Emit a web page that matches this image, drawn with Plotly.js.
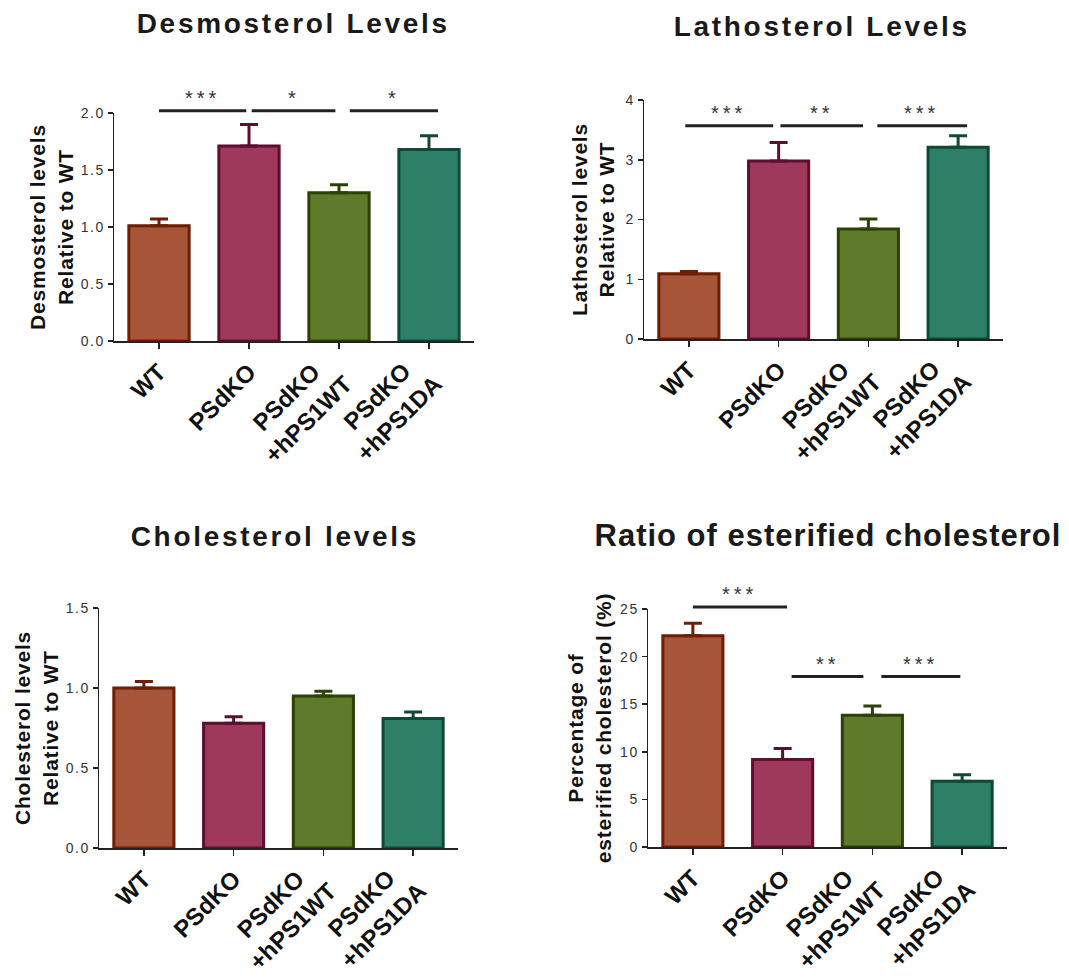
<!DOCTYPE html>
<html>
<head>
<meta charset="utf-8">
<script src="https://cdn.plot.ly/plotly-3.0.1.min.js"></script>
<style>
html,body{margin:0;padding:0;background:#fff;}
#chart{width:1069px;height:978px;}
/* significance stars are spaced out */
#chart .annotation text{letter-spacing:4px;}
/* panel titles are letter-spaced */
#chart .annotation[data-index="0"] text,
#chart .annotation[data-index="1"] text,
#chart .annotation[data-index="2"] text{letter-spacing:2.7px;}
#chart .annotation[data-index="3"] text{letter-spacing:1px;}
#chart .ytick text,#chart .y2tick text,#chart .y3tick text,#chart .y4tick text{letter-spacing:1.5px;}
#chart .g-ytitle text,#chart .g-y2title text,#chart .g-y3title text,#chart .g-y4title text{letter-spacing:0.8px;}
</style>
</head>
<body>
<div id="chart"></div>
<script>
// ---- data ----
const groups = ['WT', 'PSdKO', 'PSdKO<br>+hPS1WT', 'PSdKO<br>+hPS1DA'];

const desmosterolMean = [1.01, 1.71, 1.30, 1.68];
const desmosterolErr  = [0.06, 0.19, 0.07, 0.12];

const lathosterolMean = [1.09, 2.98, 1.84, 3.21];
const lathosterolErr  = [0.04, 0.31, 0.17, 0.19];

const cholesterolMean = [1.00, 0.78, 0.95, 0.81];
const cholesterolErr  = [0.04, 0.04, 0.03, 0.04];

const esterifiedMean = [22.2, 9.2, 13.85, 6.9];
const esterifiedErr  = [1.3, 1.15, 0.95, 0.7];

// significance brackets: start group, end group, level, label
const desmoSigStart = [0.0, 1.03, 2.12];
const desmoSigEnd   = [0.97, 1.96, 3.1];
const desmoSigY     = [2.02, 2.02, 2.02];
const desmoSigLabel = ['***', '*', '*'];

const lathoSigStart = [-0.04, 1.02, 2.1];
const lathoSigEnd   = [0.94, 1.94, 3.1];
const lathoSigY     = [3.57, 3.57, 3.57];
const lathoSigLabel = ['***', '**', '***'];

const esterSigStart = [0.0, 1.1, 2.1];
const esterSigEnd   = [1.05, 1.9, 2.98];
const esterSigY     = [25.2, 17.9, 17.9];
const esterSigLabel = ['***', '**', '***'];

// ---- styles ----
const fillColors = ['#a65539', '#9e395c', '#5f7a2b', '#2d7f68'];
const edgeColors = ['#6e1e05', '#5c0f2f', '#2b4205', '#0f4a37'];
const FONT = 'Liberation Sans, Arial, sans-serif';
const W = 1069, H = 978;

const panels = [
  {mean: desmosterolMean, err: desmosterolErr, ymax: 2.0, dtick: 0.5, fmt: '.1f',
   title: 'Desmosterol Levels', ytitle: 'Desmosterol levels<br>Relative to WT',
   sigS: desmoSigStart, sigE: desmoSigEnd, sigY: desmoSigY, sigL: desmoSigLabel,
   xpx: [114, 474], ypx: [113, 341], tpos: [293, 24], tsize: 28},
  {mean: lathosterolMean, err: lathosterolErr, ymax: 4, dtick: 1, fmt: 'd',
   title: 'Lathosterol Levels', ytitle: 'Lathosterol levels<br>Relative to WT',
   sigS: lathoSigStart, sigE: lathoSigEnd, sigY: lathoSigY, sigL: lathoSigLabel,
   xpx: [644, 1003], ypx: [100, 339], tpos: [821, 27], tsize: 28},
  {mean: cholesterolMean, err: cholesterolErr, ymax: 1.5, dtick: 0.5, fmt: '.1f',
   title: 'Cholesterol levels', ytitle: 'Cholesterol levels<br>Relative to WT',
   sigS: [], sigE: [], sigY: [], sigL: [],
   xpx: [99, 458], ypx: [608, 848], tpos: [275, 536], tsize: 28},
  {mean: esterifiedMean, err: esterifiedErr, ymax: 25, dtick: 5, fmt: 'd',
   title: 'Ratio of esterified cholesterol', ytitle: 'Percentage of<br>esterified cholesterol (%)',
   sigS: esterSigStart, sigE: esterSigEnd, sigY: esterSigY, sigL: esterSigLabel,
   xpx: [648, 1007], ypx: [609, 847], tpos: [828, 535], tsize: 31}
];

const traces = [];
const layout = {
  width: W, height: H,
  margin: {l: 0, r: 0, t: 0, b: 0},
  paper_bgcolor: '#ffffff', plot_bgcolor: '#ffffff',
  showlegend: false,
  barmode: 'overlay',
  font: {family: FONT, color: '#222'},
  shapes: [], annotations: []
};

// titles first (annotation indices 0..3)
panels.forEach((p) => {
  layout.annotations.push({
    xref: 'paper', yref: 'paper', x: p.tpos[0] / W, y: 1 - p.tpos[1] / H,
    xanchor: 'center', yanchor: 'middle', showarrow: false, text: p.title,
    font: {family: FONT, size: p.tsize, color: '#1a1a1a', weight: 'bold'}
  });
});

panels.forEach((p, k) => {
  const n = k === 0 ? '' : String(k + 1);
  const xa = 'x' + n, ya = 'y' + n;
  groups.forEach((g, i) => {
    traces.push({
      type: 'bar', x: [i], y: [p.mean[i]], xaxis: xa, yaxis: ya, width: 0.67,
      marker: {color: fillColors[i], line: {color: edgeColors[i], width: 3}},
      error_y: {type: 'data', symmetric: false, array: [p.err[i]], arrayminus: [0],
                color: edgeColors[i], thickness: 3, width: 9},
      hoverinfo: 'skip'
    });
  });
  layout['xaxis' + n] = {
    domain: [p.xpx[0] / W, p.xpx[1] / W], anchor: ya,
    range: [-0.5, 3.5], tickvals: [0, 1, 2, 3], ticktext: groups,
    tickangle: -45, ticks: 'outside', ticklen: 6, tickwidth: 1.5, tickcolor: '#222',
    showline: true, linecolor: '#222', linewidth: 1.5, showgrid: false, zeroline: false,
    tickfont: {family: FONT, size: 24, color: '#111', weight: 'bold'}, fixedrange: true
  };
  layout['yaxis' + n] = {
    domain: [1 - p.ypx[1] / H, 1 - p.ypx[0] / H], anchor: xa,
    range: [0, p.ymax], dtick: p.dtick, tick0: 0, tickformat: p.fmt,
    ticks: 'outside', ticklen: 5, tickwidth: 1.5, tickcolor: '#222',
    showline: true, linecolor: '#222', linewidth: 1.5, showgrid: false, zeroline: false,
    tickfont: {family: FONT, size: 14, color: '#333'},
    title: {text: p.ytitle, standoff: 6, font: {family: FONT, size: 21, color: '#111', weight: 'bold'}},
    fixedrange: true
  };
  p.sigS.forEach((s, j) => {
    layout.shapes.push({
      type: 'line', xref: xa, yref: ya + ' domain',
      x0: s, x1: p.sigE[j], y0: p.sigY[j] / p.ymax, y1: p.sigY[j] / p.ymax,
      line: {color: '#222', width: 3}
    });
    layout.annotations.push({
      xref: xa, yref: ya + ' domain', x: (s + p.sigE[j]) / 2, y: p.sigY[j] / p.ymax,
      yanchor: 'bottom', xanchor: 'center', yshift: 0, showarrow: false,
      text: p.sigL[j], font: {family: FONT, size: 20, color: '#333'}
    });
  });
});

Plotly.newPlot('chart', traces, layout, {staticPlot: true, displayModeBar: false}).then(() => {
  // two-line category labels: lines centred on each other, block nudged up-left (as in the original figure)
  document.querySelectorAll('#chart .xtick text, #chart .x2tick text, #chart .x3tick text, #chart .x4tick text').forEach((t) => {
    const lines = t.querySelectorAll('tspan.line');
    if (lines.length < 2) return;
    const widths = Array.from(lines).map((l) => l.getComputedTextLength());
    const maxW = Math.max.apply(null, widths);
    lines.forEach((l, i) => {
      const x = parseFloat(l.getAttribute('x'));
      if (!isNaN(x)) l.setAttribute('x', x - (maxW - widths[i]) / 2);
    });
    const tr = t.getAttribute('transform') || '';
    t.setAttribute('transform', 'translate(-16,-10) ' + tr);
  });
});
</script>
</body>
</html>
